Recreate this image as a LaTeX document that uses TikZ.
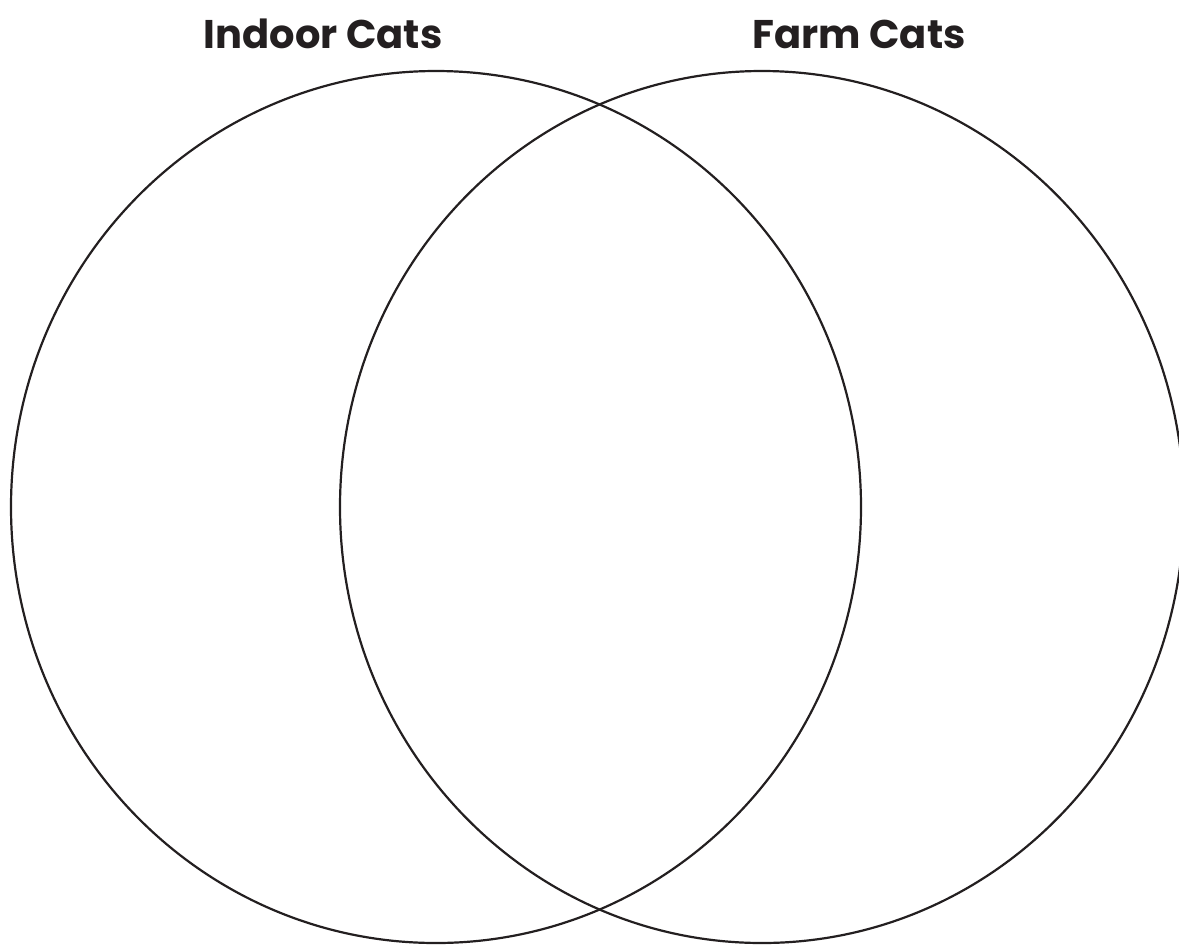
\documentclass[tikz,border=0pt]{standalone}
\usepackage{fontspec}
\newfontfamily\titlefont{Poppins}[BoldFont={Poppins Bold}]
\usetikzlibrary{positioning}
\definecolor{ink}{HTML}{231F20}

\begin{document}
\begin{tikzpicture}[
  x=0.5pt, y=-0.5pt,
  settitle/.style={font=\titlefont\bfseries\fontsize{20}{24}\selectfont, text=ink, inner sep=0pt},
  setring/.style={draw=ink, line width=1.1pt},
]
\useasboundingbox (0,0) rectangle (1179,944);

% the two sets
\draw[setring] (436,507) ellipse[x radius=425, y radius=436];
\draw[setring] (762,507) ellipse[x radius=422, y radius=436];

% titles above each set
\node[settitle, anchor=base] (indoor) at (323,48) {Indoor Cats};
\node[settitle, anchor=base] (farm) at (859,48) {Farm Cats};

\end{tikzpicture}
\end{document}
